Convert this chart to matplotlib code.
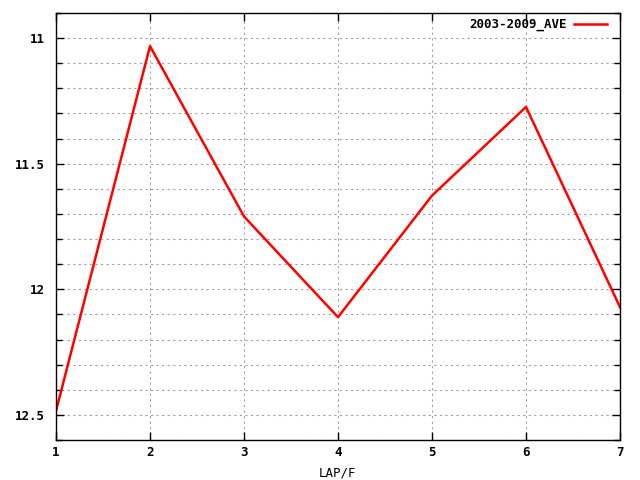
import matplotlib
matplotlib.use("Agg")
import matplotlib.pyplot as plt
from matplotlib.ticker import MultipleLocator

laps = [1, 2, 3, 4, 5, 6, 7]
ave = [12.484, 11.032, 11.71, 12.111, 11.627, 11.274, 12.071]

plt.rcParams['font.family'] = ['DejaVu Sans Mono']
plt.rcParams['font.weight'] = 'bold'
plt.rcParams['font.size'] = 9

fig = plt.figure(figsize=(6.4, 4.8), dpi=100)
ax = fig.add_axes([56/640, 40/480, 564/640, 427/480])

ax.plot(laps, ave, color='red', lw=1.8, label='2003-2009_AVE')

ax.set_xlim(1, 7)
ax.set_ylim(12.6, 10.9)
ax.yaxis.set_minor_locator(MultipleLocator(0.1))
ax.xaxis.set_major_locator(MultipleLocator(1))
ax.set_yticks([11, 11.5, 12, 12.5])
ax.set_yticklabels(['11', '11.5', '12', '12.5'])

ax.grid(True, which='both', axis='y', color='#a0a0a0', ls=(0, (2, 3)), lw=0.8)
ax.grid(True, which='major', axis='x', color='#a0a0a0', ls=(0, (2, 3)), lw=0.8)
ax.tick_params(which='both', direction='in', top=True, right=True, length=6, width=1)
ax.tick_params(axis='x', pad=4)
ax.tick_params(axis='y', pad=8)
ax.tick_params(which='minor', length=4)
for s in ax.spines.values():
    s.set_linewidth(1)

ax.set_xlabel('LAP/F', labelpad=6)

leg = ax.legend(loc='upper right', frameon=False, handlelength=2.6, handletextpad=0.6,
                borderaxespad=0.0, borderpad=0.4, markerfirst=False,
                bbox_to_anchor=(0.985, 1.0))

fig.savefig('out.png', dpi=100)
